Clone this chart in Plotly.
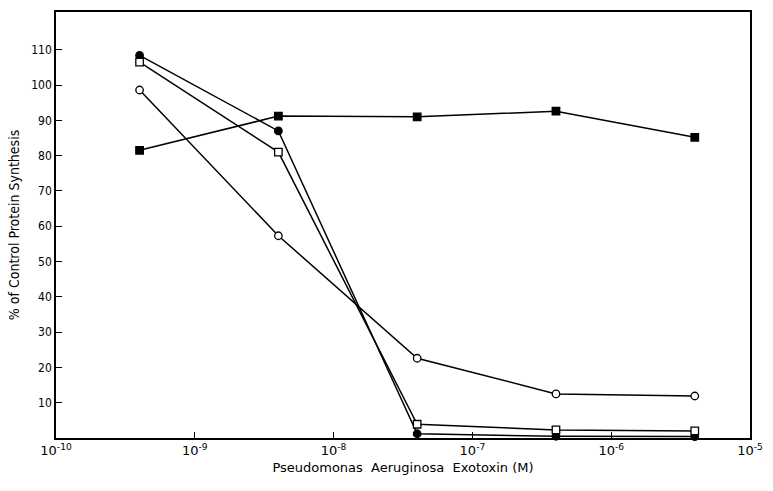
import plotly.graph_objects as go

conc = [4e-10, 4e-9, 4e-8, 4e-7, 4e-6]
filled_square = [81.5, 91.2, 91.0, 92.6, 85.2]
filled_circle = [108.4, 87.0, 1.2, 0.5, 0.4]
open_square = [106.5, 81.0, 3.9, 2.3, 2.0]
open_circle = [98.6, 57.3, 22.6, 12.5, 11.9]

x_tickvals = [1e-10, 1e-9, 1e-8, 1e-7, 1e-6, 1e-5]
x_ticktext = ["10<sup>-10</sup>", "10<sup>-9</sup>", "10<sup>-8</sup>", "10<sup>-7</sup>", "10<sup>-6</sup>", "10<sup>-5</sup>"]
y_tickvals = [10, 20, 30, 40, 50, 60, 70, 80, 90, 100, 110]

fig = go.Figure()
series = [
    (filled_square, "square", "black"),
    (filled_circle, "circle", "black"),
    (open_square, "square", "white"),
    (open_circle, "circle", "white"),
]
for vals, sym, fill in series:
    fig.add_trace(go.Scatter(
        x=conc, y=vals, mode="lines+markers",
        line=dict(color="black", width=1.5),
        marker=dict(symbol=sym, size=7.5, color=fill, line=dict(color="black", width=1.3)),
        showlegend=False, cliponaxis=False,
    ))

font = dict(family="DejaVu Sans", size=13, color="black")
fig.update_layout(
    width=773, height=491,
    margin=dict(l=56, r=16, t=10, b=53),
    paper_bgcolor="white", plot_bgcolor="white",
    font=font,
    xaxis=dict(
        type="log", range=[-10, -5],
        tickvals=x_tickvals, ticktext=x_ticktext,
        ticks="inside", ticklen=6, tickcolor="black",
        tickfont=dict(family="DejaVu Sans", size=13),
        showline=True, linecolor="black", linewidth=1.5, mirror=True,
        showgrid=False, zeroline=False,
        title=dict(text="Pseudomonas  Aeruginosa  Exotoxin (M)", font=dict(family="DejaVu Sans", size=13), standoff=6),
    ),
    yaxis=dict(
        range=[0, 120.7],
        tickvals=y_tickvals,
        ticks="inside", ticklen=6, tickcolor="black",
        tickfont=dict(family="DejaVu Sans Condensed", size=12),
        showline=True, linecolor="black", linewidth=1.5, mirror=True,
        showgrid=False, zeroline=False,
        title=dict(text="% of Control Protein Synthesis", font=dict(family="DejaVu Sans Condensed", size=14), standoff=8),
    ),
)

fig.write_html("out.html")
